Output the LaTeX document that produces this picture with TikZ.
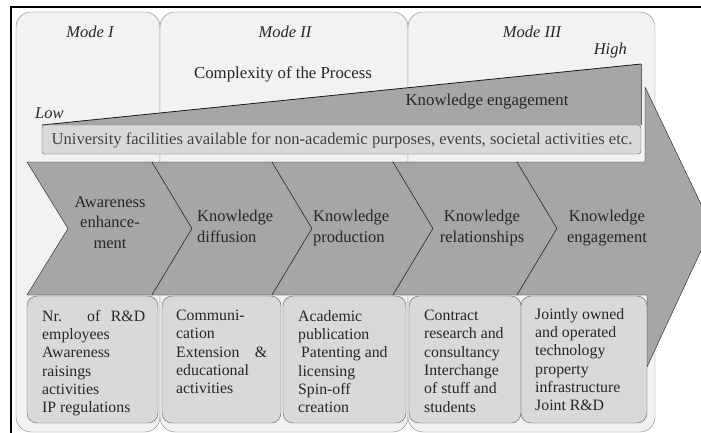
\documentclass[tikz,border=0pt]{standalone}
\usepackage{fontspec}
\setmainfont{Liberation Serif}
\usetikzlibrary{positioning}
\definecolor{colfill}{HTML}{F2F2F2}
\definecolor{chevgray}{HTML}{A6A6A6}
\definecolor{boxgray}{HTML}{D9D9D9}
\definecolor{inkgray}{HTML}{262626}
\tikzset{
  modecol/.style={draw=black!50,fill=colfill,rounded corners=15pt},
  chevron/.style={draw=black!90,fill=chevgray,line join=miter},
  itembox/.style={draw=black!65,fill=boxgray,rounded corners=10pt},
  chevtext/.style={text=inkgray,inner sep=0pt,font=\fontsize{16.5}{20.5}\selectfont},
  itemtext/.style={text=inkgray,inner sep=0pt,align=left,anchor=north west,font=\fontsize{15.8}{18.3}\selectfont},
  modetext/.style={text=inkgray,inner sep=0pt,anchor=base,font=\fontsize{16.5}{20}\selectfont\itshape}
}
\begin{document}
\begin{tikzpicture}[x=1pt,y=-1pt]
    \useasboundingbox (0,0) rectangle (701,433);
    \fill[white] (0,0) rectangle (701,433);
    \draw[modecol] (16,12) rectangle (160,432);
    \draw[modecol] (160,12) rectangle (408,432);
    \draw[modecol] (408,12) rectangle (655,432);
    \node[modetext] (mone) at (90,38) {Mode I};
    \node[modetext] (mtwo) at (285,38) {Mode II};
    \node[modetext] (mthree) at (532,38) {Mode III};
    \node[modetext,anchor=base east] (high) at (627,55) {High};
    \node[modetext,anchor=base west] (low) at (35,118) {Low};
    \node[text=inkgray,inner sep=0pt,anchor=base,font=\fontsize{16.8}{20}\selectfont] (cplx) at (283,79) {Complexity of the Process};
    \draw[chevron] (27,162) -- (152,162) -- (192,228.5) -- (152,295) -- (27,295) -- (68,228.5) -- cycle;
    \draw[chevron] (152,162) -- (272,162) -- (312,228.5) -- (272,295) -- (152,295) -- (192,228.5) -- cycle;
    \draw[chevron] (272,162) -- (393,162) -- (433,228.5) -- (393,295) -- (272,295) -- (312,228.5) -- cycle;
    \draw[chevron] (393,162) -- (517,162) -- (557,228.5) -- (517,295) -- (393,295) -- (433,228.5) -- cycle;
    \begin{scope}
      \clip (0,0) rectangle (701,433);
      \draw[chevron] (517,162) -- (645,162) -- (645,87) -- (712,227) -- (647,367) -- (647,295) -- (517,295) -- (557,228.5) -- cycle;
    \end{scope}
    \fill[chevgray] (42,125) -- (641,64) -- (641,125) -- cycle;
    \draw[black!60] (641,64) -- (641,125);
    \draw[black!90,thick] (42,125) -- (641,64);
    \draw[black!65,fill=boxgray,rounded corners=3pt] (42,125) rectangle (641,154);
    \node[text=inkgray,inner sep=0pt,anchor=base,font=\fontsize{16.8}{20}\selectfont] (keng) at (487,106) {Knowledge engagement};
    \node[text=black!75,inner sep=0pt,anchor=base,font=\fontsize{16.6}{18}\selectfont] (facil) at (342,145) {University facilities available for non-academic purposes, events, societal activities etc.};
    \node[chevtext,align=center,anchor=north] (aware) at (110,196) {Awareness\\enhance-\\ment};
    \node[chevtext,align=left,anchor=north west] (diffu) at (197,210) {Knowledge\\diffusion};
    \node[chevtext,align=left,anchor=north west] (produ) at (313,210) {Knowledge\\production};
    \node[chevtext,align=center,anchor=north] (relat) at (482,210) {Knowledge\\relationships};
    \node[chevtext,align=center,anchor=north] (engag) at (607,210) {Knowledge\\engagement};
    \draw[itembox] (27,296) rectangle (158,423);
    \draw[itembox] (162,296) rectangle (281,423);
    \draw[itembox] (283,296) rectangle (406,423);
    \draw[itembox] (409,296) rectangle (521,423);
    \draw[itembox] (521,296) rectangle (647,423);
    \node[itemtext] (itone) at (42,310) {\makebox[103pt][s]{Nr. of R\&D}\\employees\\Awareness\\raisings\\activities\\IP regulations};
    \node[itemtext] (ittwo) at (176,310) {Communi-\\cation\\\makebox[91pt][s]{Extension \&}\\educational\\activities};
    \node[itemtext] (itthree) at (298,310) {Academic\\publication\\\hspace{3pt}Patenting and\\licensing\\Spin-off\\creation};
    \node[itemtext] (itfour) at (424,310) {Contract\\research and\\consultancy\\Interchange\\of stuff and\\students};
    \node[itemtext] (itfive) at (535,308) {Jointly owned\\and operated\\technology\\property\\infrastructure\\Joint R\&D};
    \draw[line width=2.2pt] (11,433) -- (11,7) -- (701,7);
  \end{tikzpicture}
\end{document}
